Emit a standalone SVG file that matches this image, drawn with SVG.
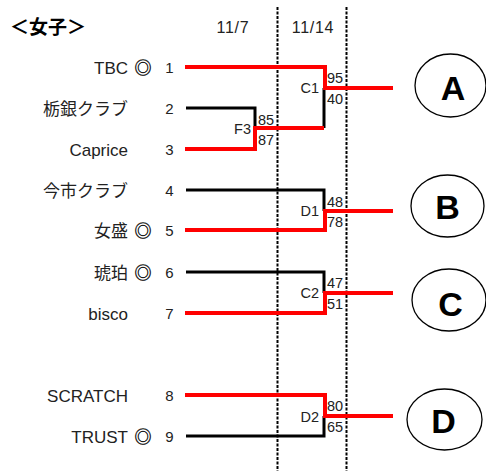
<svg xmlns="http://www.w3.org/2000/svg" width="486" height="471" viewBox="0 0 486 471">
<style>
.name{font-family:"Liberation Sans","Noto Sans CJK JP",sans-serif;font-size:17px;fill:#222;text-anchor:end}
.jp{font-family:"Noto Sans CJK JP",sans-serif;font-size:17px;fill:#222;text-anchor:end}
.mark{font-family:"Noto Sans CJK JP",sans-serif;font-size:17px;fill:#111;stroke:#111;stroke-width:0.4;text-anchor:middle}
.num{font-family:"Liberation Sans",sans-serif;font-size:15px;fill:#222;text-anchor:middle}
.score{font-family:"Liberation Sans",sans-serif;font-size:14.5px;fill:#222}
.jn{font-family:"Liberation Sans",sans-serif;font-size:14.5px;fill:#222;text-anchor:end}
.date{font-family:"Liberation Sans",sans-serif;font-size:16px;fill:#222;text-anchor:middle;letter-spacing:0.7px}
.big{font-family:"Liberation Sans",sans-serif;font-size:34px;font-weight:bold;fill:#000;text-anchor:middle}
.ell{fill:#fff;stroke:#000;stroke-width:1.3}
.blk{fill:none;stroke:#000;stroke-width:3}
.red{fill:none;stroke:#f00;stroke-width:4}
.dash{stroke:#000;stroke-width:2;stroke-dasharray:3 1.5}
</style>
<rect width="486" height="471" fill="#fff"/>
<text x="10" y="34" style="font-family:'Noto Sans CJK JP',sans-serif;font-size:19px;font-weight:bold;fill:#000">＜女子＞</text>
<g id="dates">
<text class="date" x="233" y="33">11/7</text>
<text class="date" x="313" y="33">11/14</text>
</g>
<g id="round-lines">
<line class="dash" x1="277.5" y1="7" x2="277.5" y2="471"/>
<line class="dash" x1="346.5" y1="7" x2="346.5" y2="471"/>
</g>
<g id="connectors">
<polyline class="blk" points="186,108 255,108 255,128"/>
<polyline class="blk" points="324,88 324,128"/>
<polyline class="blk" points="186,190 324,190 324,211"/>
<polyline class="blk" points="186,272 324,272 324,293"/>
<polyline class="blk" points="186,436 324,436 324,416"/>
<polyline class="red" points="185,67 325,67 325,88 393,88"/>
<polyline class="red" points="185,149 255,149 255,128 324,128"/>
<polyline class="red" points="185,230 325,230 325,211 393,211"/>
<polyline class="red" points="185,313 325,313 325,293 393,293"/>
<polyline class="red" points="185,395 325,395 325,416 393,416"/>
</g>
<g id="team1"><text class="name" x="128" y="74">TBC</text><text class="mark" x="143" y="73.5">◎</text><text class="num" x="169.5" y="73">1</text></g>
<g id="team2"><text class="jp" x="128" y="115">栃銀クラブ</text><text class="num" x="169.5" y="114">2</text></g>
<g id="team3"><text class="name" x="128" y="156">Caprice</text><text class="num" x="169.5" y="155">3</text></g>
<g id="team4"><text class="jp" x="128" y="197">今市クラブ</text><text class="num" x="169.5" y="196">4</text></g>
<g id="team5"><text class="jp" x="128" y="237">女盛</text><text class="mark" x="143" y="236.5">◎</text><text class="num" x="169.5" y="236">5</text></g>
<g id="team6"><text class="jp" x="128" y="279">琥珀</text><text class="mark" x="143" y="278.5">◎</text><text class="num" x="169.5" y="278">6</text></g>
<g id="team7"><text class="name" x="128" y="320">bisco</text><text class="num" x="169.5" y="319">7</text></g>
<g id="team8"><text class="name" x="128" y="402">SCRATCH</text><text class="num" x="169.5" y="401">8</text></g>
<g id="team9"><text class="name" x="128" y="443">TRUST</text><text class="mark" x="143" y="442.5">◎</text><text class="num" x="169.5" y="442">9</text></g>
<g id="F3"><text class="jn" x="251" y="134">F3</text><text class="score" x="258" y="124.5">85</text><text class="score" x="258" y="145">87</text></g>
<g id="C1"><text class="jn" x="319" y="93">C1</text><text class="score" x="327" y="83">95</text><text class="score" x="327" y="104">40</text></g>
<g id="D1"><text class="jn" x="319" y="215.7">D1</text><text class="score" x="327" y="206.7">48</text><text class="score" x="327" y="226.7">78</text></g>
<g id="C2"><text class="jn" x="319" y="298.3">C2</text><text class="score" x="327" y="288.3">47</text><text class="score" x="327" y="309.3">51</text></g>
<g id="D2"><text class="jn" x="319" y="421.7">D2</text><text class="score" x="327" y="410.7">80</text><text class="score" x="327" y="432.3">65</text></g>
<g id="A"><ellipse class="ell" cx="450.5" cy="85.5" rx="35.5" ry="31.5"/><text class="big" x="453" y="100">A</text></g>
<g id="B"><ellipse class="ell" cx="447.5" cy="206" rx="36.5" ry="31"/><text class="big" x="447.5" y="219">B</text></g>
<g id="C"><ellipse class="ell" cx="449" cy="300" rx="37" ry="31"/><text class="big" x="450.5" y="315.5">C</text></g>
<g id="D"><ellipse class="ell" cx="444.5" cy="419.5" rx="37.5" ry="30.5"/><text class="big" x="443.5" y="432.5">D</text></g>
</svg>
